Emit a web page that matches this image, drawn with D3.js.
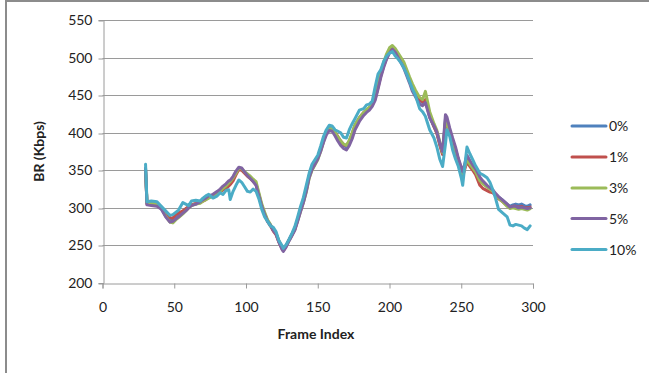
<!DOCTYPE html>
<html><head><meta charset="utf-8">
<script src="https://cdn.jsdelivr.net/npm/d3@7"></script>
<style>
html,body{margin:0;padding:0;background:#fff;}
svg{display:block;}
text{font-family:Lato,"Open Sans",sans-serif;fill:#222;}
</style></head>
<body>
<svg id="chart" width="649" height="373"></svg>
<script>
const frames = [30,31,34,38,41,44,47,49,51,53,
56,58,60,62,65,68,70,72,74,77,
80,82,84,86,88,89,91,93,95,97,
99,101,103,105,107,109,111,113,115,117,
119,121,123,125,126,128,130,132,134,136,
138,140,142,144,146,148,150,152,154,156,
158,160,162,164,166,168,170,172,174,176,
179,182,184,186,188,190,192,194,196,198,
200,202,204,206,208,210,212,214,216,218,
221,223,225,228,231,233,235,237,239,240,
242,244,246,248,250,251,253,254,256,258,
260,263,265,268,270,272,274,276,279,282,
284,286,288,290,292,294,296,298];

const loss0 = [352,306,305,304,299,290,284,284,287,290,
294,298,301,304,305,307,310,312,314,317,
320,323,327,330,334,336,340,347,352,351,
347,343,340,336,332,318,303,292,283,277,
270,265,255,247,244,250,258,265,272,285,
298,310,325,343,355,361,368,378,390,400,
405,405,400,393,388,383,381,387,397,409,
419,426,430,433,438,446,462,478,490,500,
508,513,508,502,496,490,480,470,461,454,
443,440,443,421,408,400,385,372,418,415,
402,390,378,364,352,346,360,366,360,355,
350,337,333,328,326,323,318,314,310,305,
302,304,305,304,305,303,302,304];

const loss1 = [350,305,305,304,300,292,287,286,291,293,
296,299,302,304,306,307,309,311,314,316,
319,321,324,326,329,331,336,344,351,350,
346,342,339,335,331,317,302,291,282,276,
269,264,254,246,243,249,257,264,271,284,
297,309,324,342,353,360,367,377,390,401,
406,406,401,395,389,384,383,389,399,410,
420,427,430,433,437,445,460,476,489,499,
508,512,509,503,497,491,481,471,462,455,
444,441,444,422,408,399,384,371,413,412,
400,389,376,362,348,342,355,361,355,350,
344,330,326,323,321,320,316,312,308,303,
300,302,302,301,302,300,300,301];

const loss3 = [351,307,306,305,300,289,281,280,284,287,
292,296,300,303,305,306,309,311,313,316,
318,322,326,329,333,335,340,346,353,352,
348,345,342,338,335,320,305,294,284,278,
271,266,256,248,245,250,257,264,271,283,
295,307,321,339,350,357,364,375,388,400,
405,406,401,394,389,385,383,390,400,411,
420,427,431,434,439,448,465,482,494,505,
513,516,512,506,500,494,484,474,465,457,
447,444,455,428,412,403,388,374,415,413,
401,389,377,364,351,345,358,364,358,353,
348,336,332,328,325,322,317,313,308,302,
299,300,299,298,299,298,297,299];

const loss5 = [353,304,303,302,298,288,281,282,285,288,
293,296,300,303,305,308,311,313,316,318,
322,325,329,332,336,337,342,349,354,353,
348,343,339,335,330,316,302,291,282,277,
270,265,254,245,242,248,256,263,270,282,
295,307,322,340,351,358,365,375,387,397,
403,402,396,389,383,379,377,383,392,404,
415,423,427,430,435,443,458,474,487,498,
506,511,507,500,493,486,476,466,455,448,
438,436,440,420,409,401,387,375,424,421,
406,393,381,366,354,348,363,370,363,357,
352,341,336,330,327,324,319,315,310,305,
301,302,302,300,301,300,299,300];

const loss10 = [358,308,309,308,302,296,290,291,294,297,
307,305,303,309,310,309,313,316,318,313,
316,320,318,323,324,311,322,330,337,334,
328,322,321,325,322,312,298,288,282,276,
274,268,256,250,246,251,258,266,275,288,
302,314,330,346,358,364,370,382,395,404,
410,409,404,402,400,394,393,404,412,419,
430,432,437,438,442,461,478,484,495,502,
506,508,502,498,493,486,478,468,458,450,
432,428,422,404,393,381,365,355,385,404,
395,377,365,355,340,330,365,381,372,364,
356,346,344,340,334,324,312,298,293,288,
277,276,278,277,276,273,271,276];

const seriesNames = ["0%","1%","3%","5%","10%"];
const seriesColors = ["#4F81BD","#C0504D","#9BBB59","#8064A2","#4BACC6"];
const seriesValues = [loss0, loss1, loss3, loss5, loss10];
const xTicks = [0,50,100,150,200,250,300];
const yTicks = [200,250,300,350,400,450,500,550];
const xTitle = "Frame Index";
const yTitle = "BR (Kbps)";

const svg = d3.select("#chart");

// outer frame (only top/left visible in reference)
svg.append("path").attr("d","M6,373 V1 H649").attr("fill","none")
  .attr("stroke","#8c8c8c").attr("stroke-width",2);

const x = d3.scaleLinear().domain([0,300]).range([102.5,533]);
const y = d3.scaleLinear().domain([200,550]).range([283,20]);

// gridlines
svg.append("g").selectAll("line").data(yTicks.filter(v=>v>200)).join("line")
  .attr("x1",x(0)).attr("x2",x(300))
  .attr("y1",d=>Math.round(y(d))+0.5).attr("y2",d=>Math.round(y(d))+0.5)
  .attr("stroke","#9a9a9a").attr("stroke-width",1);

// y axis
const yAxis = svg.append("g").attr("transform",`translate(${Math.round(x(0))+0.5},0)`)
  .call(d3.axisLeft(y).tickValues(yTicks).tickSize(5).tickPadding(6).tickFormat(d3.format("d")));
// x axis
const xAxis = svg.append("g").attr("transform",`translate(0,${Math.round(y(200))+0.5})`)
  .call(d3.axisBottom(x).tickValues(xTicks).tickSize(5).tickPadding(14).tickFormat(d3.format("d")));
[yAxis,xAxis].forEach(a=>{
  a.select(".domain").attr("stroke","#9a9a9a");
  a.selectAll(".tick line").attr("stroke","#9a9a9a");
  a.selectAll(".tick text").style("font-family","Lato, sans-serif").style("font-size","14px").attr("fill","#333");
});
yAxis.selectAll(".tick line").attr("transform","translate(0,0.5)");
yAxis.selectAll(".tick").attr("transform",d=>`translate(0,${Math.round(y(d))+0.5})`);

// axis titles
svg.append("text").attr("x",316).attr("y",339).attr("text-anchor","middle")
  .style("font-size","14px").style("font-weight","bold").text(xTitle);
svg.append("text").attr("transform",`translate(44,${(y(200)+y(550))/2}) rotate(-90)`)
  .attr("text-anchor","middle").style("font-size","14px").style("font-weight","bold").text(yTitle);

// lines
const line = d3.line().x((d,i)=>x(frames[i])).y(d=>y(d));
svg.append("g").selectAll("path").data(seriesValues).join("path")
  .attr("d",d=>line(d)).attr("fill","none")
  .attr("stroke",(d,i)=>seriesColors[i]).attr("stroke-width",3)
  .attr("stroke-linejoin","round").attr("stroke-linecap","round");

// legend
const leg = svg.append("g");
const legY = [126,157,188,218.5,249.5];
seriesNames.forEach((n,i)=>{
  leg.append("line").attr("x1",572).attr("x2",606).attr("y1",legY[i]).attr("y2",legY[i])
    .attr("stroke",seriesColors[i]).attr("stroke-width",3).attr("stroke-linecap","round");
  leg.append("text").attr("x",609).attr("y",legY[i]).attr("dy","0.36em")
    .style("font-size","14px").text(n);
});
</script>
</body></html>
